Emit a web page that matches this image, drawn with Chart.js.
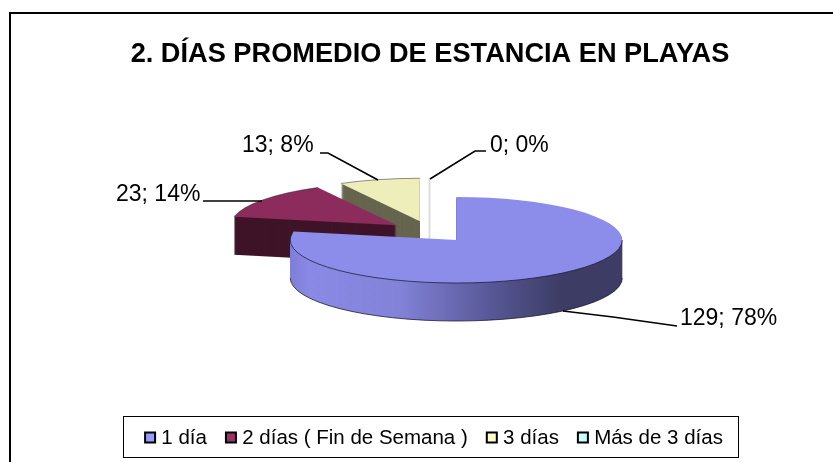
<!DOCTYPE html>
<html><head><meta charset="utf-8">
<style>html,body{margin:0;padding:0;background:#fff}canvas{display:block}</style>
<script src="https://cdn.jsdelivr.net/npm/chart.js@4"></script>
</head><body>
<canvas id="c" width="833" height="462"></canvas>
<script>
const titleText = '2. DÍAS PROMEDIO DE ESTANCIA EN PLAYAS';
const categories = ['1 día', '2 días ( Fin de Semana )', '3 días', 'Más de 3 días'];
const values = [129, 23, 13, 0];
const topColors = ['#8C8CEA', '#8B2C5C', '#EEEEBB', '#CCFFFF'];
const legendColors = ['#9999FF', '#993366', '#FFFFCC', '#CCFFFF'];
const sideColors = [null, '#3F1428', '#66664F', '#DDDDDD'];

/* label anchor and leader polyline per slice (layout only) */
const labelPos = [[680, 319], [116, 195], [242, 146], [490, 146]];
const leaders = [
  [[677, 326], [613, 317], [563, 311]],
  [[203, 201], [262, 201]],
  [[320, 153], [328, 153], [378, 180]],
  [[486, 151], [475, 151], [430, 179]]
];
const RX = 166, TILT = 43 / 166, DEPTH = 38, EXPLODE = 0.25, CY = 231.7, LEGEND_SHIFT = 7;

function wedge(ctx, a, cx, cy) {
  ctx.save();
  ctx.translate(cx, cy);
  ctx.scale(1, TILT);
  ctx.beginPath();
  ctx.moveTo(0, 0);
  ctx.arc(0, 0, a.outerRadius, a.startAngle, a.endAngle);
  ctx.closePath();
  ctx.restore();
}

const pie3d = {
  id: 'pie3d',
  afterLayout(chart) {
    chart.legend.left += LEGEND_SHIFT;
    chart.legend.right += LEGEND_SHIFT;
  },
  beforeDatasetsDraw(chart) {
    const ctx = chart.ctx, arcs = chart.getDatasetMeta(0).data;
    for (let i = arcs.length - 1; i >= 0; i--) {
      const a = arcs[i], mid = (a.startAngle + a.endAngle) / 2, R = a.outerRadius;
      const cx = a.x + Math.cos(mid) * EXPLODE * R;
      const cy = CY + Math.sin(mid) * EXPLODE * R * TILT;
      if (a.circumference === 0) {
        const rimY = cy + Math.sin(a.startAngle) * R * TILT;
        ctx.save();
        ctx.strokeStyle = sideColors[i];
        ctx.lineWidth = 2;
        ctx.beginPath();
        ctx.moveTo(cx - 0.5, rimY);
        ctx.lineTo(cx - 0.5, cy + DEPTH);
        ctx.stroke();
        ctx.restore();
        continue;
      }
      let side = sideColors[i];
      if (!side) {
        side = ctx.createLinearGradient(290, 0, 622, 0);
        side.addColorStop(0, '#7E7ED8');
        side.addColorStop(0.06, '#8A8AE6');
        side.addColorStop(0.33, '#8282D8');
        side.addColorStop(0.6, '#585898');
        side.addColorStop(0.82, '#3C3C64');
        side.addColorStop(1, '#3C3C64');
      }
      ctx.save();
      ctx.fillStyle = side;
      for (let d = DEPTH; d >= 1; d--) {
        wedge(ctx, a, cx, cy + d);
        ctx.fill();
      }
      /* bottom rim */
      ctx.strokeStyle = 'rgba(20,20,40,0.75)';
      ctx.lineWidth = 1;
      if (i === 0) {
        ctx.save();
        ctx.translate(cx, cy + DEPTH);
        ctx.scale(1, TILT);
        ctx.beginPath();
        ctx.arc(0, 0, R, 0, Math.PI);
        ctx.restore();
        ctx.stroke();
      }
      wedge(ctx, a, cx, cy);
      ctx.fillStyle = topColors[i];
      ctx.fill();
      ctx.strokeStyle = i === 0 ? 'rgba(20,20,40,0.7)' : 'rgba(20,10,20,0.45)';
      ctx.lineWidth = 1;
      ctx.save();
      ctx.translate(cx, cy);
      ctx.scale(1, TILT);
      ctx.beginPath();
      if (i === 0) {
        ctx.arc(0, 0, R, 0, Math.PI * 1.05);
      } else {
        ctx.arc(0, 0, R, a.startAngle, a.endAngle);
      }
      ctx.restore();
      ctx.stroke();
      ctx.restore();
    }
    return false;
  },
  afterDraw(chart) {
    const ctx = chart.ctx, total = values.reduce((s, v) => s + v, 0);
    ctx.save();
    /* outer frame: top and left only */
    ctx.fillStyle = '#000';
    ctx.fillRect(10, 12, 823, 2);
    ctx.fillRect(9, 12, 2, 450);
    /* legend frame */
    ctx.strokeStyle = '#000';
    ctx.lineWidth = 1;
    ctx.strokeRect(123.5, 416.5, 615, 41);
    /* legend swatches */
    chart.legend.legendHitBoxes.forEach((b, i) => {
      ctx.fillStyle = legendColors[i];
      ctx.strokeStyle = '#000';
      ctx.lineWidth = 2;
      ctx.fillRect(b.left - 6, 432.5, 10, 10);
      ctx.strokeRect(b.left - 6, 432.5, 10, 10);
    });
    /* leader lines */
    ctx.strokeStyle = '#000';
    ctx.lineWidth = 1.6;
    leaders.forEach(pts => {
      ctx.beginPath();
      pts.forEach((p, j) => j ? ctx.lineTo(p[0], p[1]) : ctx.moveTo(p[0], p[1]));
      ctx.stroke();
    });
    /* data labels */
    ctx.fillStyle = '#000';
    ctx.font = '23px "Liberation Sans", Arial, sans-serif';
    ctx.textBaseline = 'middle';
    ctx.textAlign = 'left';
    values.forEach((v, i) => {
      const pct = Math.round(v / total * 100);
      ctx.fillText(v + '; ' + pct + '%', labelPos[i][0], labelPos[i][1]);
    });
    ctx.restore();
  }
};

new Chart(document.getElementById('c'), {
  type: 'pie',
  data: {
    labels: categories,
    datasets: [{ data: values, backgroundColor: topColors, borderWidth: 0 }]
  },
  options: {
    responsive: false,
    animation: false,
    devicePixelRatio: 1,
    radius: RX,
    layout: { padding: { left: 27, right: 0, top: 0, bottom: 3 } },
    plugins: {
      tooltip: { enabled: false },
      title: {
        display: true,
        text: titleText,
        color: '#000',
        font: { family: '"Liberation Sans", Arial, sans-serif', size: 27.2, weight: 'bold' },
        padding: { top: 38, bottom: 10 }
      },
      legend: {
        position: 'bottom',
        onClick: null,
        labels: {
          color: '#000',
          font: { family: '"Liberation Sans", Arial, sans-serif', size: 20.5 },
          boxWidth: 0,
          boxHeight: 10,
          padding: 25,
          generateLabels(chart) {
            return categories.map((t, i) => ({ text: t, fillStyle: legendColors[i], index: i, hidden: false }));
          }
        }
      }
    }
  },
  plugins: [pie3d]
});
</script>
</body></html>
